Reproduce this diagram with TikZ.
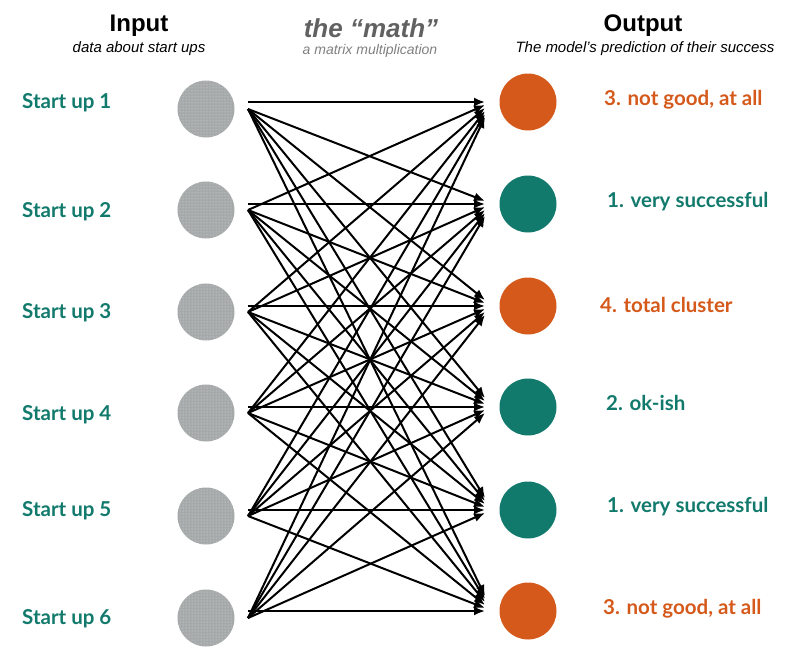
\documentclass[tikz,border=0pt]{standalone}
\usepackage{fontspec}
\setmainfont{Liberation Sans}
\newfontfamily\avenir{Lato}
\usetikzlibrary{calc,arrows.meta,patterns}

\definecolor{orangeout}{HTML}{D4591A}
\definecolor{vertout}{HTML}{127A6C}
\definecolor{grisin}{HTML}{A5A9A9}

\begin{document}
\begin{tikzpicture}[x=1pt,y=-1pt,
    entree/.style={circle, fill=grisin, minimum size=57pt, inner sep=0pt,
      postaction={pattern=dots, pattern color=white!60!grisin}},
    sortie/.style={circle, minimum size=57pt, inner sep=0pt},
    etiq/.style={anchor=base west, inner sep=0pt, font=\avenir\bfseries\fontsize{20.5}{24}\selectfont},
    titre/.style={anchor=base, font=\bfseries\fontsize{24}{28}\selectfont},
    soustitre/.style={anchor=base, font=\itshape\fontsize{15}{18}\selectfont},
    fleche/.style={line width=2pt, -{Latex[length=11pt,width=9pt]}}]
    \useasboundingbox (0,0) rectangle (810,664);

    % Titres
    \node[titre] (tin) at (139,31) {Input};
    \node[soustitre] (stin) at (139,52) {data about start ups};
    \node[titre, text=black!62, font=\bfseries\itshape\fontsize{26}{30}\selectfont] (tmath) at (371,37) {the “math”};
    \node[soustitre, text=black!50, font=\itshape\fontsize{14}{17}\selectfont] (smath) at (370,54) {a matrix multiplication};
    \node[titre] (tout) at (643,31) {Output};
    \node[soustitre] (stout) at (645,52) {The model's prediction of their success};

    % Entrées (start ups)
    \foreach \y [count=\i] in {109,210,312,413,516,618} {
        \node[entree] (e\i) at (206,\y) {};
        \coordinate (d\i) at ($(e\i)+(42,0)$);
    }
    \foreach \y [count=\i] in {108,217,318,420,516,624}
        \node[etiq, text=vertout] (l\i) at (22,\y) {Start up \i};

    % Sorties (prédictions)
    \foreach \y/\c [count=\j] in {102/orangeout,204/vertout,306/orangeout,407/vertout,510/vertout,611/orangeout} {
        \node[sortie, fill=\c] (s\j) at (528,\y) {};
        \coordinate (a\j) at ($(s\j)+(-43,0)$);
    }
    \node[etiq, text=orangeout] (p1) at (604,105) {3. not good, at all};
    \node[etiq, text=vertout] (p2) at (607,207) {1. very successful};
    \node[etiq, text=orangeout] (p3) at (600,312) {4. total cluster};
    \node[etiq, text=vertout] (p4) at (606,410) {2. ok-ish};
    \node[etiq, text=vertout] (p5) at (607,512) {1. very successful};
    \node[etiq, text=orangeout] (p6) at (603,614) {3. not good, at all};

    % Flèches (tous vers tous)
    \foreach \i in {1,...,6}
        \foreach \j in {1,...,6} {
            \ifnum\i=\j
                \draw[fleche] (d\i |- a\j) -- (a\j);
            \else
                \draw[fleche] (d\i) -- ($(a\j)+(0,{3*(\i-\j)})$);
            \fi
        }
\end{tikzpicture}
\end{document}
